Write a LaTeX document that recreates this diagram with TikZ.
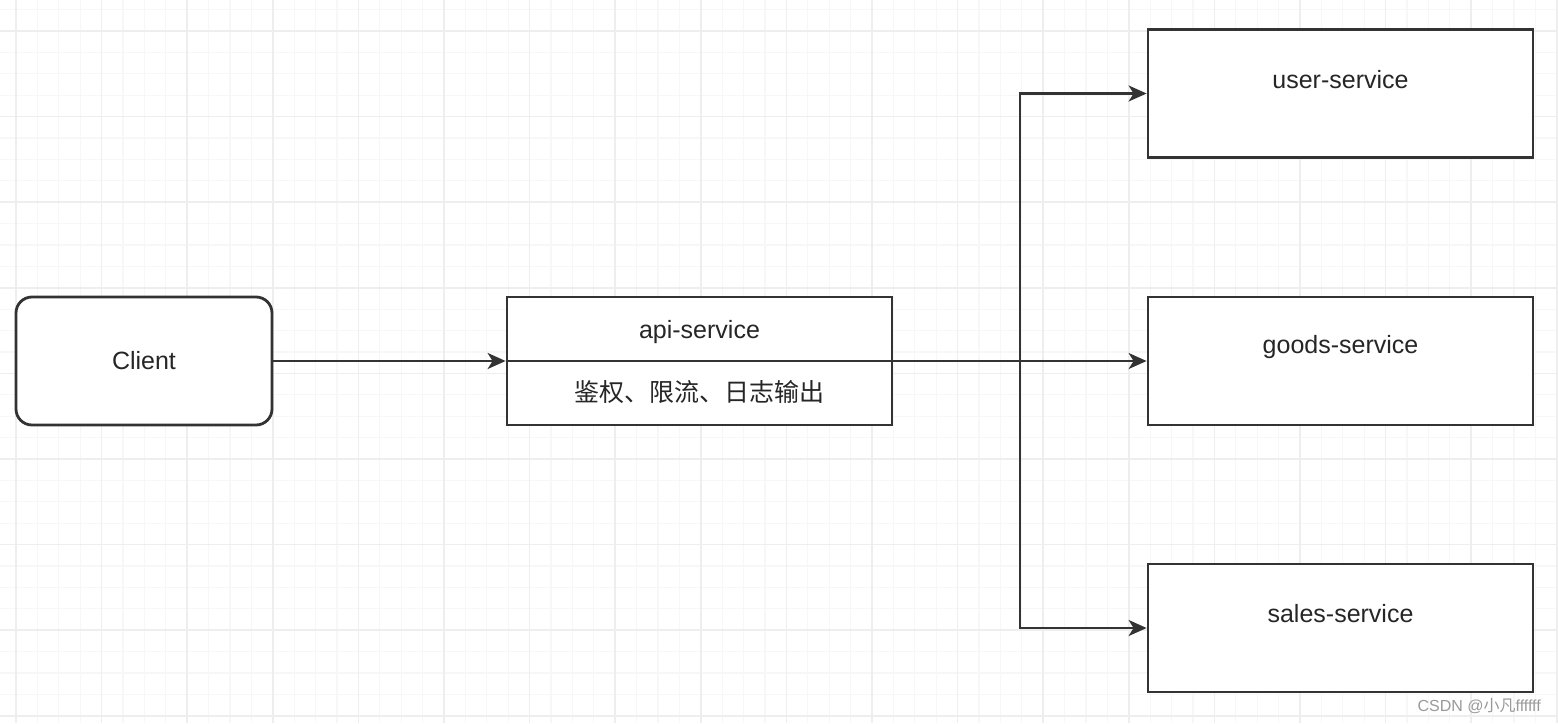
\documentclass[tikz,border=0pt]{standalone}
\usepackage{fontspec}
\setmainfont{Liberation Sans}
\newfontfamily\cjk{Noto Sans CJK SC}
\usetikzlibrary{arrows.meta, positioning}
\definecolor{lineclr}{HTML}{333333}
\definecolor{gridminor}{HTML}{F7F7F7}
\definecolor{gridmajor}{HTML}{EEEEEE}
\definecolor{markclr}{HTML}{999999}
\tikzset{
	boxnode/.style={
			draw=lineclr,
			line width=2.8pt,
			fill=white,
			minimum width=385pt,
			minimum height=128pt,
			inner sep=0pt,
			font=\fontsize{25}{30}\selectfont,
			text=black!85
		},
	roundnode/.style={
			boxnode,
			rounded corners=16pt,
			minimum width=256pt
		},
	textnode/.style={
			inner sep=0pt,
			font=\fontsize{25}{30}\selectfont,
			text=black!85
		},
	marknode/.style={
			inner sep=0pt,
			font=\fontsize{16}{18}\selectfont,
			text=markclr
		},
	link/.style={
			draw=lineclr,
			line width=2.2pt
		},
	linkarrow/.style={
			link,
			-{Stealth[length=18pt, width=16pt, inset=5pt]}
		}
}
\begin{document}
\begin{tikzpicture}[x=1pt, y=-1pt]
\useasboundingbox (0,0) rectangle (1558,723);
% background grid
\foreach \gx in {-5.4,16,...,1560} \draw[gridminor, line width=1.2pt] (\gx,0) -- (\gx,723);
\foreach \gy in {9.6,31,...,725} \draw[gridminor, line width=1.2pt] (0,\gy) -- (1558,\gy);
\foreach \gx in {16,101.6,...,1560} \draw[gridmajor, line width=1.6pt] (\gx,0) -- (\gx,723);
\foreach \gy in {31,116.6,...,725} \draw[gridmajor, line width=1.6pt] (0,\gy) -- (1558,\gy);

\node[roundnode] (client) at (144,361) {Client};

\node[boxnode] (api) at (699.5,361) {};
\draw[link] (api.west) -- (api.east);
\node[textnode] (apitop) at (699.5,332) {api-service};
\node[textnode] (apibot) at (699.5,392) {\cjk 鉴权、限流、日志输出};

\node[boxnode] (user) at (1340.5,93.5) {};
\node[textnode] (usertext) at (1340.5,80) {user-service};
\node[boxnode] (goods) at (1340.5,361) {};
\node[textnode] (goodstext) at (1340.5,347) {goods-service};
\node[boxnode] (sales) at (1340.5,628) {};
\node[textnode] (salestext) at (1340.5,614) {sales-service};

\coordinate (fork) at (1020,361);

\draw[linkarrow] (client) -- (api);
\draw[linkarrow] (api.east) -- (goods.west);
\draw[linkarrow] (api.east) -- (fork) |- (user.west);
\draw[linkarrow] (api.east) -- (fork) |- (sales.west);

\node[marknode, anchor=east] (mark) at (1541,706) {CSDN @{\cjk 小凡}ffffff};
\end{tikzpicture}
\end{document}
